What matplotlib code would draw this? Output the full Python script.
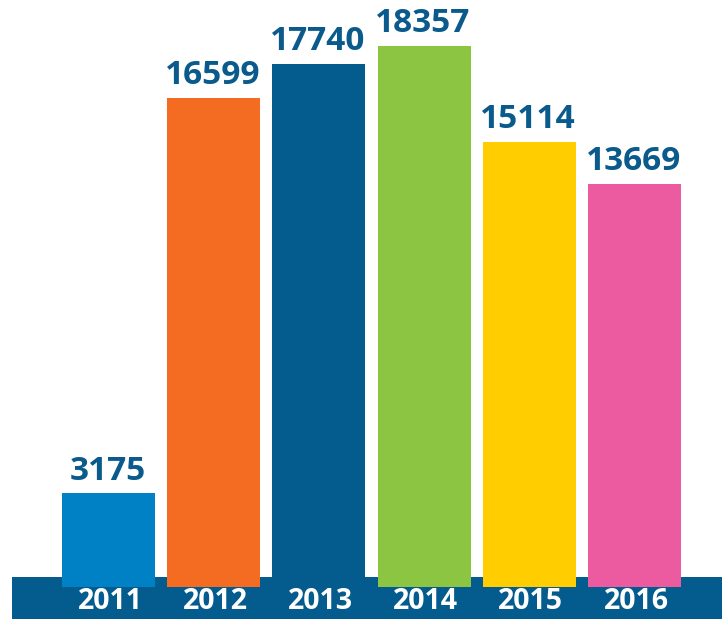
import matplotlib.pyplot as plt

years = ["2011", "2012", "2013", "2014", "2015", "2016"]
values = [3175, 16599, 17740, 18357, 15114, 13669]
colors = ["#0081c6", "#f36c21", "#045b8e", "#8bc541", "#ffcd00", "#ec5ba0"]

label_color = "#0a5a8c"
band_color = "#045b8e"

fig = plt.figure(figsize=(7.22, 6.21), dpi=100)
ax = fig.add_axes([0, 0, 1, 1])

x = list(range(len(years)))
ax.bar(x, values, width=0.884, color=colors, zorder=3)

# bottom band with year labels
ax.axhspan(-1076, 349, xmin=12 / 722, xmax=1, color=band_color, zorder=2, lw=0)
for i, yr in enumerate(years):
    ax.text(i + 0.015, -500, yr, ha="center", va="center", color="white",
            fontsize=20.5, fontweight="bold", family="Open Sans", zorder=4)

# value labels above bars
for i, v in enumerate(values):
    ax.text(i - 0.01, v + 200, str(v), ha="center", va="bottom", color=label_color,
            fontsize=24, fontweight="bold", family="Open Sans", zorder=4)

ax.set_xlim(-1.031, 5.832)
ax.set_ylim(-1154, 19918)
ax.axis("off")

fig.savefig("out.png", dpi=100, facecolor="white")
